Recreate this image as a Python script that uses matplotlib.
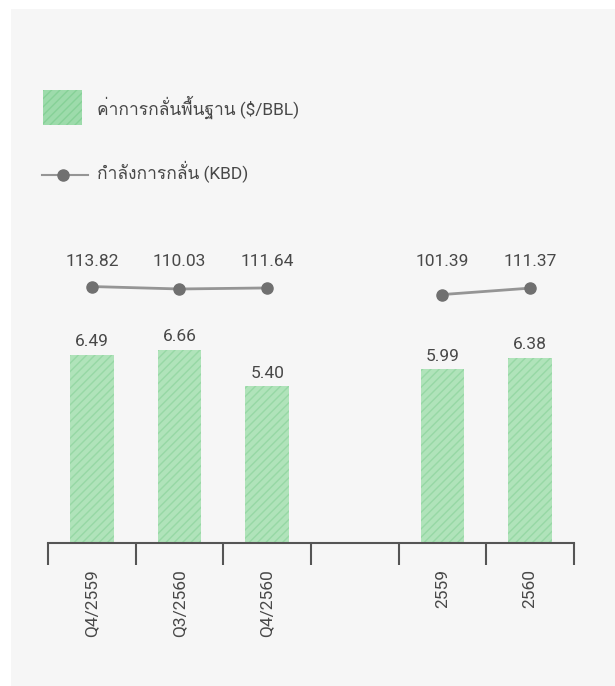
import matplotlib
matplotlib.use('Agg')
import matplotlib.pyplot as plt
import matplotlib.patches as mpatches
import matplotlib.lines as mlines
from matplotlib import font_manager
from matplotlib.ft2font import FT2Font
import numpy as np

# data
categories = ['Q4/2559', 'Q3/2560', 'Q4/2560', '', '2559', '2560']
margin = [6.49, 6.66, 5.40, np.nan, 5.99, 6.38]          # $/BBL (bars)
capacity = [113.82, 110.03, 111.64, np.nan, 101.39, 111.37]  # KBD (line)
legend_bar = 'ค่าการกลั่นพื้นฐาน ($/BBL)'
legend_line = 'กำลังการกลั่น (KBD)'

# find an installed font that can draw Thai, fall back to DejaVu
thai_font = None
for f in font_manager.fontManager.ttflist:
    try:
        if 0x0E01 in FT2Font(f.fname).get_charmap():
            thai_font = f.name
            break
    except Exception:
        pass
fam = ['Roboto', 'DejaVu Sans']
if thai_font:
    fam = ['Roboto', thai_font, 'DejaVu Sans']
plt.rcParams['font.family'] = fam

txt = '#484848'
bar_face = '#b0e3ba'
bar_hatch = '#97d8a5'
W, H = 615, 686
fig = plt.figure(figsize=(W / 100, H / 100), dpi=100, facecolor='white')

# light grey panel behind the chart
fig.patches.append(mpatches.Rectangle((11 / W, 0), 1 - 11 / W, 1 - 9 / H,
                                      transform=fig.transFigure,
                                      facecolor='#f6f6f6', edgecolor='none', zorder=-5))

ax = fig.add_axes([48 / W, (H - 543) / H, 526 / W, 303 / H])
ax.patch.set_alpha(0)
x = np.arange(len(categories))
bars = ax.bar(x, margin, width=0.5, color=bar_face, edgecolor=bar_hatch,
              linewidth=0, hatch='////', zorder=2)
ax.set_xlim(-0.5, len(categories) - 0.5)
ax.set_ylim(0, 10.45)
for xi, v in zip(x, margin):
    if not np.isnan(v):
        ax.annotate(f'{v:.2f}', (xi, v), xytext=(0, 4), textcoords='offset points',
                    ha='center', va='bottom', fontsize=12.5, color=txt)

for s in ['top', 'right', 'left']:
    ax.spines[s].set_visible(False)
ax.spines['bottom'].set_color('#555555')
ax.spines['bottom'].set_linewidth(1.5)
ax.set_yticks([])
ax.set_xticks(x)
ax.set_xticklabels(categories, rotation=90, fontsize=12.5, color=txt, va='top')
ax.set_xticks(np.arange(len(categories) + 1) - 0.5, minor=True)
ax.tick_params(axis='x', which='major', length=0, pad=19)
ax.tick_params(axis='x', which='minor', length=16, width=1.5, color='#555555', direction='out')

# capacity line on its own scale
ax2 = ax.twinx()
ax2.plot(x, capacity, color='#959595', linewidth=2, marker='o', markersize=8,
         markerfacecolor='#707070', markeredgecolor='#707070', zorder=3)
ax2.set_ylim(-284, 186)
ax2.axis('off')
for xi, v in zip(x, capacity):
    if not np.isnan(v):
        ax2.text(xi, 153, f'{v:.2f}', ha='center', va='center', fontsize=12.5, color=txt)

# legend drawn by hand
fig.patches.append(mpatches.Rectangle((43 / W, 1 - 125 / H), 39 / W, 35 / H,
                                      transform=fig.transFigure, facecolor='#9ddbab',
                                      edgecolor='#86d197', linewidth=0, hatch='////'))
fig.text(97 / W, 1 - 107 / H, legend_bar, fontsize=12.5, color=txt, va='center')
fig.lines.append(mlines.Line2D([42 / W, 88 / W], [1 - 175 / H] * 2, transform=fig.transFigure,
                               color='#959595', linewidth=1.5))
fig.lines.append(mlines.Line2D([63 / W], [1 - 175 / H], transform=fig.transFigure,
                               marker='o', markersize=8, color='#707070'))
fig.text(97 / W, 1 - 172 / H, legend_line, fontsize=12.5, color=txt, va='center')

fig.savefig('out.png', dpi=100, facecolor='white')
